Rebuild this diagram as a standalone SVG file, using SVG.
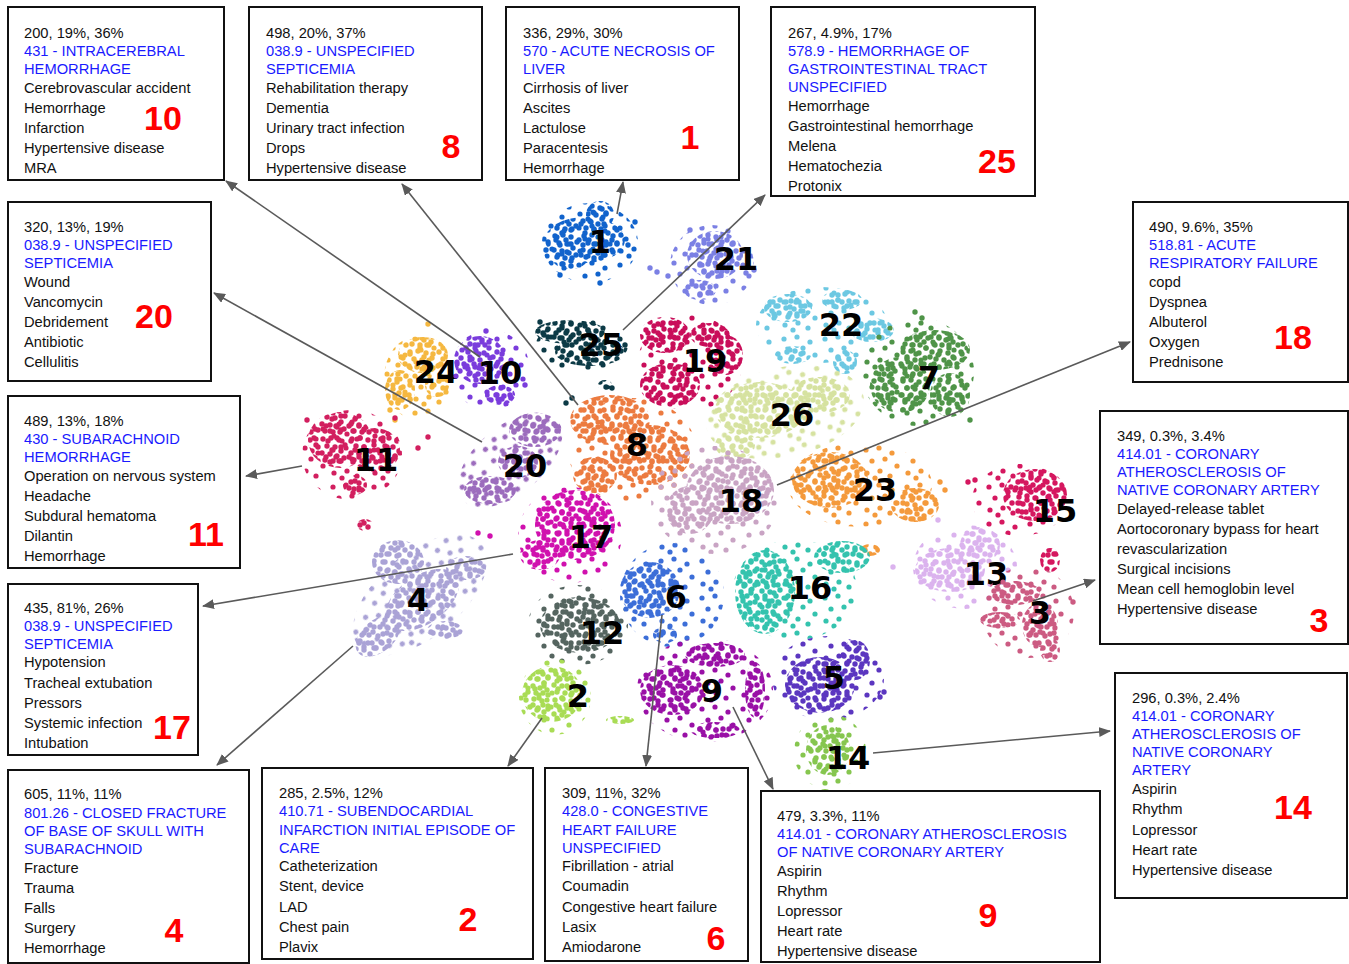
<svg xmlns="http://www.w3.org/2000/svg" width="1349" height="964" viewBox="0 0 1349 964">
<style>
.t{font-family:"Liberation Sans",Arial,sans-serif;font-size:14.7px;fill:#111}
.b{fill:#1a1aff}
.r{font-family:"Liberation Sans",Arial,sans-serif;font-size:34px;font-weight:bold;fill:#ff0000;text-anchor:middle}
.cl{font-family:"DejaVu Sans",sans-serif;font-size:32px;font-weight:bold;fill:#000;text-anchor:middle}
.box{fill:#fff;stroke:#111;stroke-width:2}
.con line{stroke:#5a5a5a;stroke-width:1.6;marker-end:url(#ah)}
</style>
<defs>
<marker id="ah" markerUnits="userSpaceOnUse" markerWidth="12" markerHeight="10" refX="11" refY="5" orient="auto">
<path d="M0,0 L12,5 L0,10 z" fill="#5a5a5a"/>
</marker>
<pattern id="pA" patternUnits="userSpaceOnUse" width="29" height="29">
<g fill="#fff">
<circle cx="4" cy="4" r="2.7"/><circle cx="12" cy="3" r="2.7"/><circle cx="20" cy="5" r="2.7"/><circle cx="26" cy="10" r="2.7"/>
<circle cx="8" cy="11" r="2.7"/><circle cx="16" cy="12" r="2.7"/><circle cx="22" cy="16" r="2.7"/><circle cx="3" cy="18" r="2.7"/>
<circle cx="11" cy="19" r="2.7"/><circle cx="18" cy="21" r="2.7"/><circle cx="25" cy="23" r="2.7"/><circle cx="6" cy="25" r="2.7"/>
<circle cx="14" cy="26" r="2.7"/><circle cx="21" cy="26" r="2.7"/>
</g>
</pattern>
<pattern id="pB" patternUnits="userSpaceOnUse" width="23" height="31">
<g fill="#fff">
<circle cx="6" cy="7" r="2.7"/><circle cx="15" cy="4" r="2.7"/><circle cx="19" cy="13" r="2.7"/><circle cx="10" cy="16" r="2.7"/>
<circle cx="4" cy="23" r="2.7"/><circle cx="14" cy="23" r="2.7"/><circle cx="19" cy="27" r="2.7"/><circle cx="8" cy="28" r="2.7"/>
</g>
</pattern>
<pattern id="pC" patternUnits="userSpaceOnUse" width="41" height="37">
<g fill="#fff">
<circle cx="5" cy="6" r="2.6"/><circle cx="18" cy="4" r="2.6"/><circle cx="31" cy="9" r="2.6"/><circle cx="11" cy="17" r="2.6"/>
<circle cx="24" cy="15" r="2.6"/><circle cx="36" cy="22" r="2.6"/><circle cx="6" cy="29" r="2.6"/><circle cx="19" cy="27" r="2.6"/>
<circle cx="29" cy="32" r="2.6"/><circle cx="14" cy="34" r="2.6"/>
</g>
</pattern>
<mask id="mD" maskUnits="userSpaceOnUse" x="0" y="0" width="1349" height="964">
<rect width="1349" height="964" fill="url(#pA)"/>
<rect width="1349" height="964" fill="url(#pB)"/>
</mask>
<mask id="mS" maskUnits="userSpaceOnUse" x="0" y="0" width="1349" height="964">
<rect width="1349" height="964" fill="url(#pC)"/>
</mask>
</defs>
<rect width="1349" height="964" fill="#fff"/>

<g id="scatter">
<g id="cluster-1" fill="#1163cc">
<ellipse mask="url(#mS)" cx="590" cy="243" rx="48" ry="40"/>
<g mask="url(#mD)"><ellipse cx="585" cy="240" rx="40" ry="23"/><ellipse cx="600" cy="215" rx="14" ry="14"/><ellipse cx="570" cy="258" rx="18" ry="11"/></g>
<circle cx="546" cy="250" r="2.7"/><circle cx="560" cy="275" r="2.7"/><circle cx="600" cy="283" r="2.7"/><circle cx="635" cy="222" r="2.7"/><circle cx="628" cy="245" r="2.7"/>
<text class="cl" x="600" y="253">1</text>
</g>
<g id="cluster-21" fill="#7b80e4">
<ellipse mask="url(#mS)" cx="712" cy="265" rx="42" ry="40"/>
<g mask="url(#mD)"><ellipse cx="715" cy="255" rx="28" ry="24"/><ellipse cx="700" cy="290" rx="16" ry="10"/></g>
<circle cx="650" cy="268" r="2.7"/><circle cx="657" cy="272" r="2.7"/><circle cx="746" cy="273" r="2.7"/><circle cx="754" cy="270" r="2.7"/><circle cx="690" cy="230" r="2.7"/><circle cx="668" cy="276" r="2.7"/>
<text class="cl" x="736" y="270">21</text>
</g>
<g id="cluster-25" fill="#0c3a46">
<ellipse mask="url(#mS)" cx="582" cy="345" rx="46" ry="26"/>
<g mask="url(#mD)"><ellipse cx="570" cy="332" rx="35" ry="12"/><ellipse cx="590" cy="352" rx="35" ry="14"/><ellipse cx="605" cy="385" rx="7" ry="5"/></g>
<circle cx="572" cy="398" r="2.7"/><circle cx="566" cy="403" r="2.7"/><circle cx="612" cy="388" r="2.7"/><circle cx="625" cy="345" r="2.7"/><circle cx="540" cy="322" r="2.7"/>
<text class="cl" x="601" y="356">25</text>
</g>
<g id="cluster-19" fill="#c90e5a">
<ellipse mask="url(#mS)" cx="690" cy="363" rx="52" ry="48"/>
<g mask="url(#mD)"><ellipse cx="665" cy="335" rx="25" ry="18"/><ellipse cx="710" cy="335" rx="20" ry="12"/><ellipse cx="670" cy="385" rx="30" ry="22"/><ellipse cx="725" cy="355" rx="18" ry="20"/></g>
<text class="cl" x="705" y="372">19</text>
</g>
<g id="cluster-22" fill="#6cc8e2">
<ellipse mask="url(#mS)" cx="822" cy="325" rx="66" ry="38"/>
<g mask="url(#mD)"><ellipse cx="788" cy="308" rx="24" ry="14"/><ellipse cx="842" cy="300" rx="20" ry="10"/><ellipse cx="872" cy="330" rx="22" ry="12"/><ellipse cx="793" cy="355" rx="18" ry="9"/><ellipse cx="845" cy="362" rx="12" ry="12"/></g>
<text class="cl" x="841" y="336">22</text>
</g>
<g id="cluster-7" fill="#4f9448">
<ellipse mask="url(#mS)" cx="918" cy="372" rx="56" ry="54"/>
<g mask="url(#mD)"><ellipse cx="935" cy="350" rx="35" ry="20"/><ellipse cx="900" cy="385" rx="30" ry="28"/><ellipse cx="950" cy="395" rx="20" ry="22"/></g>
<circle cx="915" cy="312" r="2.7"/><circle cx="922" cy="318" r="2.7"/><circle cx="970" cy="420" r="2.7"/>
<text class="cl" x="929" y="389">7</text>
</g>
<g id="cluster-26" fill="#d6e2a0">
<ellipse mask="url(#mS)" cx="785" cy="412" rx="80" ry="45" transform="rotate(-12 785 412)"/>
<g mask="url(#mD)"><ellipse cx="760" cy="410" rx="45" ry="28"/><ellipse cx="820" cy="395" rx="30" ry="18"/><ellipse cx="735" cy="445" rx="20" ry="14"/></g>
<text class="cl" x="792" y="426">26</text>
</g>
<g id="cluster-24" fill="#f5b840">
<ellipse mask="url(#mS)" cx="418" cy="378" rx="34" ry="42"/>
<g mask="url(#mD)"><ellipse cx="423" cy="355" rx="25" ry="18"/><ellipse cx="400" cy="390" rx="15" ry="20"/><ellipse cx="437" cy="385" rx="12" ry="12"/></g>
<circle cx="428" cy="324" r="2.7"/><circle cx="390" cy="410" r="2.7"/><circle cx="395" cy="420" r="2.7"/>
<text class="cl" x="436" y="383">24</text>
</g>
<g id="cluster-10" fill="#7a3cdc">
<ellipse mask="url(#mS)" cx="490" cy="370" rx="40" ry="40"/>
<g mask="url(#mD)"><ellipse cx="480" cy="360" rx="26" ry="24"/><ellipse cx="500" cy="395" rx="15" ry="10"/></g>
<circle cx="486" cy="331" r="2.7"/><circle cx="525" cy="385" r="2.7"/>
<text class="cl" x="500" y="384">10</text>
</g>
<g id="cluster-11" fill="#d21f5f">
<ellipse mask="url(#mS)" cx="352" cy="455" rx="50" ry="45"/>
<g mask="url(#mD)"><ellipse cx="340" cy="440" rx="32" ry="28"/><ellipse cx="375" cy="450" rx="25" ry="22"/><ellipse cx="355" cy="485" rx="12" ry="10"/><ellipse cx="365" cy="525" rx="8" ry="6"/></g>
<circle cx="418" cy="448" r="2.7"/><circle cx="428" cy="437" r="2.7"/><circle cx="395" cy="418" r="2.7"/><circle cx="307" cy="420" r="2.7"/>
<text class="cl" x="376" y="471">11</text>
</g>
<g id="cluster-20" fill="#9c6cbd">
<ellipse mask="url(#mS)" cx="510" cy="460" rx="62" ry="34" transform="rotate(-40 510 460)"/>
<g mask="url(#mD)"><ellipse cx="535" cy="430" rx="26" ry="17"/><ellipse cx="518" cy="462" rx="20" ry="16"/><ellipse cx="490" cy="490" rx="26" ry="14"/></g>
<text class="cl" x="525" y="477">20</text>
</g>
<g id="cluster-8" fill="#ec7b40">
<ellipse mask="url(#mS)" cx="632" cy="450" rx="64" ry="52"/>
<g mask="url(#mD)"><ellipse cx="610" cy="420" rx="40" ry="25"/><ellipse cx="650" cy="455" rx="40" ry="30"/><ellipse cx="595" cy="475" rx="22" ry="18"/></g>
<text class="cl" x="637" y="456">8</text>
</g>
<g id="cluster-18" fill="#c9a4c4">
<ellipse mask="url(#mS)" cx="715" cy="500" rx="64" ry="54"/>
<g mask="url(#mD)"><ellipse cx="730" cy="490" rx="44" ry="34"/><ellipse cx="690" cy="510" rx="24" ry="24"/></g>
<text class="cl" x="741" y="512">18</text>
</g>
<g id="cluster-23" fill="#f49a3c">
<ellipse mask="url(#mS)" cx="860" cy="485" rx="72" ry="42"/>
<g mask="url(#mD)"><ellipse cx="830" cy="480" rx="38" ry="28"/><ellipse cx="915" cy="505" rx="24" ry="17"/><ellipse cx="870" cy="550" rx="10" ry="6"/></g>
<circle cx="940" cy="482" r="2.7"/><circle cx="945" cy="490" r="2.7"/>
<text class="cl" x="875" y="501">23</text>
</g>
<g id="cluster-15" fill="#d5175f">
<ellipse mask="url(#mS)" cx="1020" cy="500" rx="48" ry="36"/>
<g mask="url(#mD)"><ellipse cx="1035" cy="495" rx="32" ry="26"/><ellipse cx="1050" cy="560" rx="10" ry="12"/></g>
<circle cx="975" cy="480" r="2.7"/><circle cx="968" cy="482" r="2.7"/>
<text class="cl" x="1055" y="522">15</text>
</g>
<g id="cluster-13" fill="#dbb3ee">
<ellipse mask="url(#mS)" cx="965" cy="567" rx="52" ry="42"/>
<g mask="url(#mD)"><ellipse cx="950" cy="570" rx="35" ry="22"/><ellipse cx="980" cy="545" rx="20" ry="18"/></g>
<circle cx="893" cy="567" r="2.7"/><circle cx="938" cy="520" r="2.7"/>
<text class="cl" x="986" y="585">13</text>
</g>
<g id="cluster-3" fill="#cc5b82">
<ellipse mask="url(#mS)" cx="1028" cy="612" rx="46" ry="46"/>
<g mask="url(#mD)"><ellipse cx="1015" cy="593" rx="25" ry="12"/><ellipse cx="1040" cy="625" rx="18" ry="22"/><ellipse cx="1050" cy="650" rx="10" ry="12"/><ellipse cx="1000" cy="620" rx="20" ry="8"/></g>
<circle cx="1073" cy="602" r="2.7"/>
<text class="cl" x="1040" y="624">3</text>
</g>
<g id="cluster-17" fill="#d011ae">
<ellipse mask="url(#mS)" cx="570" cy="535" rx="52" ry="48"/>
<g mask="url(#mD)"><ellipse cx="575" cy="525" rx="40" ry="35"/><ellipse cx="540" cy="555" rx="20" ry="15"/></g>
<circle cx="478" cy="533" r="2.7"/><circle cx="490" cy="536" r="2.7"/>
<text class="cl" x="591" y="548">17</text>
</g>
<g id="cluster-4" fill="#aaa3d6">
<ellipse mask="url(#mS)" cx="420" cy="595" rx="80" ry="42" transform="rotate(-40 420 595)"/>
<g mask="url(#mD)"><ellipse cx="398" cy="562" rx="26" ry="22"/><ellipse cx="422" cy="600" rx="42" ry="24" transform="rotate(-35 422 600)"/><ellipse cx="378" cy="636" rx="26" ry="16" transform="rotate(-40 378 636)"/><ellipse cx="466" cy="568" rx="20" ry="12"/><ellipse cx="445" cy="630" rx="18" ry="9"/></g>
<text class="cl" x="418" y="611">4</text>
</g>
<g id="cluster-12" fill="#556560">
<ellipse mask="url(#mS)" cx="578" cy="625" rx="50" ry="40"/>
<g mask="url(#mD)"><ellipse cx="580" cy="625" rx="40" ry="28"/></g>
<text class="cl" x="602" y="644">12</text>
</g>
<g id="cluster-6" fill="#3c6ed8">
<ellipse mask="url(#mS)" cx="672" cy="595" rx="52" ry="52"/>
<g mask="url(#mD)"><ellipse cx="650" cy="590" rx="30" ry="28"/><ellipse cx="665" cy="635" rx="12" ry="8"/></g>
<text class="cl" x="676" y="608">6</text>
</g>
<g id="cluster-16" fill="#34c3ae">
<ellipse mask="url(#mS)" cx="795" cy="590" rx="62" ry="50"/>
<g mask="url(#mD)"><ellipse cx="765" cy="592" rx="30" ry="42"/><ellipse cx="842" cy="557" rx="28" ry="16"/></g>
<text class="cl" x="810" y="599">16</text>
</g>
<g id="cluster-2" fill="#a9dc55">
<ellipse mask="url(#mS)" cx="555" cy="697" rx="36" ry="38"/>
<g mask="url(#mD)"><ellipse cx="552" cy="694" rx="30" ry="28"/><ellipse cx="620" cy="720" rx="14" ry="4"/></g>
<text class="cl" x="578" y="707">2</text>
</g>
<g id="cluster-9" fill="#9910a6">
<ellipse mask="url(#mS)" cx="705" cy="690" rx="68" ry="52"/>
<g mask="url(#mD)"><ellipse cx="672" cy="690" rx="32" ry="25"/><ellipse cx="715" cy="655" rx="30" ry="12"/><ellipse cx="755" cy="690" rx="10" ry="28"/><ellipse cx="715" cy="730" rx="25" ry="8"/></g>
<text class="cl" x="712" y="702">9</text>
</g>
<g id="cluster-5" fill="#5b36c0">
<ellipse mask="url(#mS)" cx="828" cy="678" rx="56" ry="42"/>
<g mask="url(#mD)"><ellipse cx="820" cy="685" rx="35" ry="28"/><ellipse cx="855" cy="660" rx="15" ry="20"/></g>
<circle cx="884" cy="692" r="2.7"/><circle cx="880" cy="697" r="2.7"/>
<text class="cl" x="834" y="689">5</text>
</g>
<g id="cluster-14" fill="#86c64f">
<ellipse mask="url(#mS)" cx="830" cy="752" rx="36" ry="38"/>
<g mask="url(#mD)"><ellipse cx="828" cy="750" rx="22" ry="25"/></g>
<circle cx="825" cy="797" r="8"/>
<text class="cl" x="848" y="769">14</text>
</g>
</g>

<g id="connectors" class="con">
<line x1="480" y1="357" x2="226" y2="181"/>
<line x1="578" y1="405" x2="402" y2="184"/>
<line x1="617" y1="214" x2="623" y2="182"/>
<line x1="623" y1="330" x2="765" y2="195"/>
<line x1="482" y1="442" x2="214" y2="293"/>
<line x1="777" y1="485" x2="1130" y2="342"/>
<line x1="302" y1="466" x2="246" y2="476"/>
<line x1="1033" y1="601" x2="1095" y2="580"/>
<line x1="513" y1="554" x2="203" y2="606"/>
<line x1="353" y1="646" x2="217" y2="765"/>
<line x1="542" y1="718" x2="508" y2="766"/>
<line x1="662" y1="615" x2="646" y2="766"/>
<line x1="733" y1="707" x2="773" y2="789"/>
<line x1="873" y1="753" x2="1110" y2="731"/>
</g>

<g id="box-10">
<rect class="box" x="8" y="7" width="216" height="173"/>
<text class="t" x="24"><tspan y="38">200, 19%, 36%</tspan><tspan class="b" x="24" y="56">431 - INTRACEREBRAL</tspan><tspan class="b" x="24" y="74">HEMORRHAGE</tspan><tspan x="24" y="93">Cerebrovascular accident</tspan><tspan x="24" y="113">Hemorrhage</tspan><tspan x="24" y="133">Infarction</tspan><tspan x="24" y="153">Hypertensive disease</tspan><tspan x="24" y="173">MRA</tspan></text>
<text class="r" x="163" y="130">10</text>
</g>
<g id="box-8">
<rect class="box" x="249" y="7" width="233" height="173"/>
<text class="t" x="266"><tspan y="38">498, 20%, 37%</tspan><tspan class="b" x="266" y="56">038.9 - UNSPECIFIED</tspan><tspan class="b" x="266" y="74">SEPTICEMIA</tspan><tspan x="266" y="93">Rehabilitation therapy</tspan><tspan x="266" y="113">Dementia</tspan><tspan x="266" y="133">Urinary tract infection</tspan><tspan x="266" y="153">Drops</tspan><tspan x="266" y="173">Hypertensive disease</tspan></text>
<text class="r" x="451" y="158">8</text>
</g>
<g id="box-1">
<rect class="box" x="506" y="7" width="233" height="173"/>
<text class="t" x="523"><tspan y="38">336, 29%, 30%</tspan><tspan class="b" x="523" y="56">570 - ACUTE NECROSIS OF</tspan><tspan class="b" x="523" y="74">LIVER</tspan><tspan x="523" y="93">Cirrhosis of liver</tspan><tspan x="523" y="113">Ascites</tspan><tspan x="523" y="133">Lactulose</tspan><tspan x="523" y="153">Paracentesis</tspan><tspan x="523" y="173">Hemorrhage</tspan></text>
<text class="r" x="690" y="149">1</text>
</g>
<g id="box-25">
<rect class="box" x="771" y="7" width="264" height="189"/>
<text class="t" x="788"><tspan y="38">267, 4.9%, 17%</tspan><tspan class="b" x="788" y="56">578.9 - HEMORRHAGE OF</tspan><tspan class="b" x="788" y="74">GASTROINTESTINAL TRACT</tspan><tspan class="b" x="788" y="92">UNSPECIFIED</tspan><tspan x="788" y="111">Hemorrhage</tspan><tspan x="788" y="131">Gastrointestinal hemorrhage</tspan><tspan x="788" y="151">Melena</tspan><tspan x="788" y="171">Hematochezia</tspan><tspan x="788" y="191">Protonix</tspan></text>
<text class="r" x="997" y="173">25</text>
</g>
<g id="box-20">
<rect class="box" x="8" y="202" width="203" height="179"/>
<text class="t" x="24"><tspan y="232">320, 13%, 19%</tspan><tspan class="b" x="24" y="250">038.9  - UNSPECIFIED</tspan><tspan class="b" x="24" y="268">SEPTICEMIA</tspan><tspan x="24" y="287">Wound</tspan><tspan x="24" y="307">Vancomycin</tspan><tspan x="24" y="327">Debridement</tspan><tspan x="24" y="347">Antibiotic</tspan><tspan x="24" y="367">Cellulitis</tspan></text>
<text class="r" x="154" y="328">20</text>
</g>
<g id="box-18">
<rect class="box" x="1133" y="202" width="215" height="180"/>
<text class="t" x="1149"><tspan y="232">490, 9.6%, 35%</tspan><tspan class="b" x="1149" y="250">518.81 - ACUTE</tspan><tspan class="b" x="1149" y="268">RESPIRATORY FAILURE</tspan><tspan x="1149" y="287">copd</tspan><tspan x="1149" y="307">Dyspnea</tspan><tspan x="1149" y="327">Albuterol</tspan><tspan x="1149" y="347">Oxygen</tspan><tspan x="1149" y="367">Prednisone</tspan></text>
<text class="r" x="1293" y="349">18</text>
</g>
<g id="box-11">
<rect class="box" x="8" y="396" width="232" height="172"/>
<text class="t" x="24"><tspan y="426">489, 13%, 18%</tspan><tspan class="b" x="24" y="444">430 - SUBARACHNOID</tspan><tspan class="b" x="24" y="462">HEMORRHAGE</tspan><tspan x="24" y="481">Operation on nervous system</tspan><tspan x="24" y="501">Headache</tspan><tspan x="24" y="521">Subdural hematoma</tspan><tspan x="24" y="541">Dilantin</tspan><tspan x="24" y="561">Hemorrhage</tspan></text>
<text class="r" x="206" y="546">11</text>
</g>
<g id="box-3">
<rect class="box" x="1100" y="411" width="248" height="233"/>
<text class="t" x="1117"><tspan y="441">349, 0.3%, 3.4%</tspan><tspan class="b" x="1117" y="459">414.01 - CORONARY</tspan><tspan class="b" x="1117" y="477">ATHEROSCLEROSIS OF</tspan><tspan class="b" x="1117" y="495">NATIVE CORONARY ARTERY</tspan><tspan x="1117" y="514">Delayed-release tablet</tspan><tspan x="1117" y="534">Aortocoronary bypass for heart</tspan><tspan x="1117" y="554">revascularization</tspan><tspan x="1117" y="574">Surgical incisions</tspan><tspan x="1117" y="594">Mean cell hemoglobin level</tspan><tspan x="1117" y="614">Hypertensive disease</tspan></text>
<text class="r" x="1319" y="632">3</text>
</g>
<g id="box-17">
<rect class="box" x="8" y="584" width="190" height="171"/>
<text class="t" x="24"><tspan y="613">435, 81%, 26%</tspan><tspan class="b" x="24" y="631">038.9 - UNSPECIFIED</tspan><tspan class="b" x="24" y="649">SEPTICEMIA</tspan><tspan x="24" y="667">Hypotension</tspan><tspan x="24" y="688">Tracheal extubation</tspan><tspan x="24" y="708">Pressors</tspan><tspan x="24" y="728">Systemic infection</tspan><tspan x="24" y="748">Intubation</tspan></text>
<text class="r" x="172" y="739">17</text>
</g>
<g id="box-14">
<rect class="box" x="1115" y="673" width="232" height="225"/>
<text class="t" x="1132"><tspan y="703">296, 0.3%, 2.4%</tspan><tspan class="b" x="1132" y="721">414.01 - CORONARY</tspan><tspan class="b" x="1132" y="739">ATHEROSCLEROSIS OF</tspan><tspan class="b" x="1132" y="757">NATIVE CORONARY</tspan><tspan class="b" x="1132" y="775">ARTERY</tspan><tspan x="1132" y="794">Aspirin</tspan><tspan x="1132" y="814">Rhythm</tspan><tspan x="1132" y="835">Lopressor</tspan><tspan x="1132" y="855">Heart rate</tspan><tspan x="1132" y="875">Hypertensive disease</tspan></text>
<text class="r" x="1293" y="819">14</text>
</g>
<g id="box-4">
<rect class="box" x="8" y="770" width="241" height="193"/>
<text class="t" x="24"><tspan y="799">605, 11%, 11%</tspan><tspan class="b" x="24" y="818">801.26 - CLOSED FRACTURE</tspan><tspan class="b" x="24" y="836">OF BASE OF SKULL WITH</tspan><tspan class="b" x="24" y="854">SUBARACHNOID</tspan><tspan x="24" y="873">Fracture</tspan><tspan x="24" y="893">Trauma</tspan><tspan x="24" y="913">Falls</tspan><tspan x="24" y="933">Surgery</tspan><tspan x="24" y="953">Hemorrhage</tspan></text>
<text class="r" x="174" y="942">4</text>
</g>
<g id="box-2">
<rect class="box" x="262" y="768" width="271" height="191"/>
<text class="t" x="279"><tspan y="798">285, 2.5%, 12%</tspan><tspan class="b" x="279" y="816">410.71 - SUBENDOCARDIAL</tspan><tspan class="b" x="279" y="835">INFARCTION INITIAL EPISODE OF</tspan><tspan class="b" x="279" y="853">CARE</tspan><tspan x="279" y="871">Catheterization</tspan><tspan x="279" y="891">Stent, device</tspan><tspan x="279" y="912">LAD</tspan><tspan x="279" y="932">Chest pain</tspan><tspan x="279" y="952">Plavix</tspan></text>
<text class="r" x="468" y="931">2</text>
</g>
<g id="box-6">
<rect class="box" x="545" y="768" width="203" height="193"/>
<text class="t" x="562"><tspan y="798">309, 11%, 32%</tspan><tspan class="b" x="562" y="816">428.0 - CONGESTIVE</tspan><tspan class="b" x="562" y="835">HEART FAILURE</tspan><tspan class="b" x="562" y="853">UNSPECIFIED</tspan><tspan x="562" y="871">Fibrillation - atrial</tspan><tspan x="562" y="891">Coumadin</tspan><tspan x="562" y="912">Congestive heart failure</tspan><tspan x="562" y="932">Lasix</tspan><tspan x="562" y="952">Amiodarone</tspan></text>
<text class="r" x="716" y="950">6</text>
</g>
<g id="box-9">
<rect class="box" x="761" y="791" width="339" height="171"/>
<text class="t" x="777"><tspan y="821">479, 3.3%, 11%</tspan><tspan class="b" x="777" y="839">414.01 - CORONARY ATHEROSCLEROSIS</tspan><tspan class="b" x="777" y="857">OF NATIVE CORONARY ARTERY</tspan><tspan x="777" y="876">Aspirin</tspan><tspan x="777" y="896">Rhythm</tspan><tspan x="777" y="916">Lopressor</tspan><tspan x="777" y="936">Heart rate</tspan><tspan x="777" y="956">Hypertensive disease</tspan></text>
<text class="r" x="988" y="927">9</text>
</g>
</svg>
